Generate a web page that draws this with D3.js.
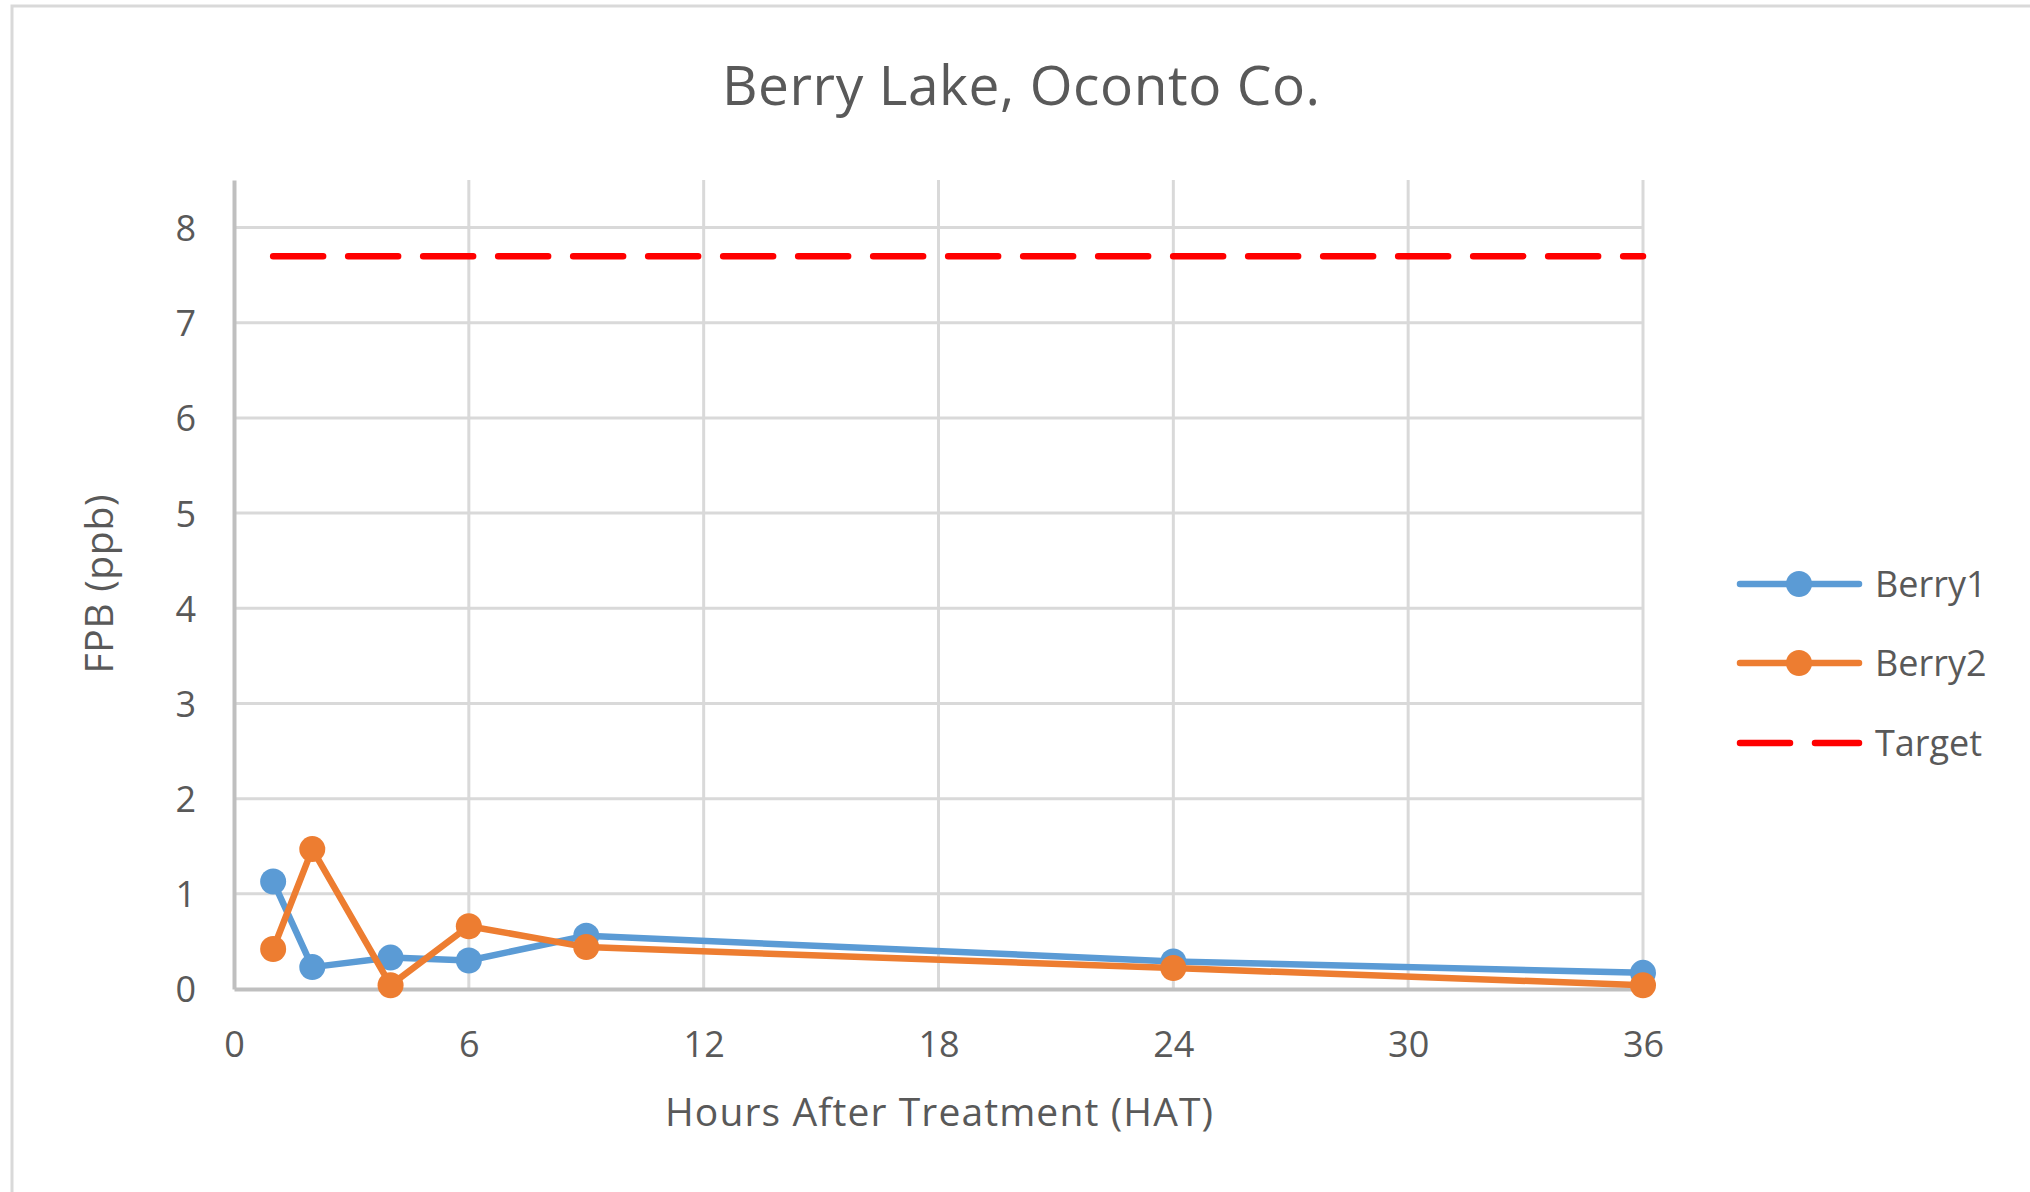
<!DOCTYPE html>
<html>
<head>
<meta charset="utf-8">
<script src="https://cdn.jsdelivr.net/npm/d3@7"></script>
<style>
	body { margin: 0; background: #fff; }
	text { font-family: "Open Sans", sans-serif; fill: #595959; }
</style>
</head>
<body>
<div class="chart"></div>
<script>
// values
const hours = [1, 2, 4, 6, 9, 24, 36];
const berry1 = [1.13, 0.23, 0.33, 0.30, 0.56, 0.29, 0.17];
const berry2 = [0.42, 1.47, 0.04, 0.66, 0.44, 0.22, 0.04];
const targetHours = [1, 36];
const targetValues = [7.7, 7.7];
const xTicks = [0, 6, 12, 18, 24, 30, 36];
const yTicks = [0, 1, 2, 3, 4, 5, 6, 7, 8];
const seriesNames = ['Berry1', 'Berry2', 'Target'];
const colors = ['#5B9BD5', '#ED7D31', '#FF0000'];

renderChart();

function renderChart() {
	const width = 2030;
	const height = 1192;
	const svg = d3.select('.chart')
		.append('svg')
		.attr('width', width)
		.attr('height', height);

	// outer chart border
	svg.append('rect')
		.attr('x', 12)
		.attr('y', 6)
		.attr('width', 2100)
		.attr('height', 1300)
		.attr('fill', 'none')
		.attr('stroke', '#d9d9d9')
		.attr('stroke-width', 3);

	const x = d3.scaleLinear().domain([0, 36]).range([234, 1643]);
	const y = d3.scaleLinear().domain([0, 8.5]).range([989, 180]);

	// gridlines
	svg.selectAll('.hgrid')
		.data(yTicks.filter(d => d > 0))
		.enter()
		.append('line')
		.attr('class', 'hgrid')
		.attr('x1', x(0))
		.attr('x2', x(36))
		.attr('y1', d => y(d))
		.attr('y2', d => y(d))
		.attr('stroke', '#d9d9d9')
		.attr('stroke-width', 3);
	svg.selectAll('.vgrid')
		.data(xTicks.filter(d => d > 0))
		.enter()
		.append('line')
		.attr('class', 'vgrid')
		.attr('x1', d => x(d))
		.attr('x2', d => x(d))
		.attr('y1', y(8.5))
		.attr('y2', y(0))
		.attr('stroke', '#d9d9d9')
		.attr('stroke-width', 3);

	// axes
	const xAxis = svg.append('g')
		.attr('transform', 'translate(0,' + y(0) + ')')
		.call(d3.axisBottom(x).tickValues(xTicks).tickSize(0).tickPadding(42));
	const yAxis = svg.append('g')
		.attr('transform', 'translate(' + x(0) + ',0)')
		.call(d3.axisLeft(y).tickValues(yTicks).tickSize(0).tickPadding(38));
	[xAxis, yAxis].forEach(a => {
		a.select('.domain').attr('stroke', '#bfbfbf').attr('stroke-width', 4);
		a.selectAll('text')
			.attr('font-size', '36px')
			.attr('fill', '#595959')
			.style('font-family', '"Open Sans", sans-serif');
	});
	yAxis.selectAll('text').attr('dy', '0.36em');

	// series
	const line = d3.line()
		.x(d => x(d[0]))
		.y(d => y(d[1]));
	const series = [
		hours.map((h, i) => [h, berry1[i]]),
		hours.map((h, i) => [h, berry2[i]])
	];
	series.forEach((s, k) => {
		svg.append('path')
			.datum(s)
			.attr('d', line)
			.attr('fill', 'none')
			.attr('stroke', colors[k])
			.attr('stroke-width', 6.5)
			.attr('stroke-linejoin', 'round');
		svg.selectAll('.dot' + k)
			.data(s)
			.enter()
			.append('circle')
			.attr('class', 'dot' + k)
			.attr('cx', d => x(d[0]))
			.attr('cy', d => y(d[1]))
			.attr('r', 13)
			.attr('fill', colors[k]);
	});
	svg.append('path')
		.datum(targetHours.map((h, i) => [h, targetValues[i]]))
		.attr('d', line)
		.attr('fill', 'none')
		.attr('stroke', colors[2])
		.attr('stroke-width', 6.5)
		.attr('stroke-dasharray', '50,25')
		.attr('stroke-linecap', 'round');

	// titles
	svg.append('text')
		.attr('x', 1021)
		.attr('y', 105)
		.attr('text-anchor', 'middle')
		.attr('font-size', '55px')
		.attr('textLength', 598)
		.attr('lengthAdjust', 'spacing')
		.text('Berry Lake, Oconto Co.');
	svg.append('text')
		.attr('x', 939)
		.attr('y', 1126)
		.attr('text-anchor', 'middle')
		.attr('font-size', '39px')
		.attr('textLength', 548)
		.attr('lengthAdjust', 'spacing')
		.text('Hours After Treatment (HAT)');
	svg.append('text')
		.attr('transform', 'translate(113,584) rotate(-90)')
		.attr('text-anchor', 'middle')
		.attr('font-size', '39px')
		.attr('textLength', 179)
		.attr('lengthAdjust', 'spacing')
		.text('FPB (ppb)');

	// legend
	const legendY = [584, 663, 743];
	const legend = svg.selectAll('.legend')
		.data(seriesNames)
		.enter()
		.append('g')
		.attr('class', 'legend')
		.attr('transform', (d, i) => 'translate(0,' + legendY[i] + ')');
	legend.append('line')
		.attr('x1', 1740)
		.attr('x2', 1859)
		.attr('stroke', (d, i) => colors[i])
		.attr('stroke-width', 6.5)
		.attr('stroke-linecap', 'round')
		.attr('stroke-dasharray', (d, i) => i == 2 ? '50,25' : null);
	legend.filter((d, i) => i < 2)
		.append('circle')
		.attr('cx', 1799)
		.attr('r', 13)
		.attr('fill', (d, i) => colors[i]);
	legend.append('text')
		.attr('x', 1875)
		.attr('dy', '0.36em')
		.attr('font-size', '36px')
		.text(d => d);
}
</script>
</body>
</html>
